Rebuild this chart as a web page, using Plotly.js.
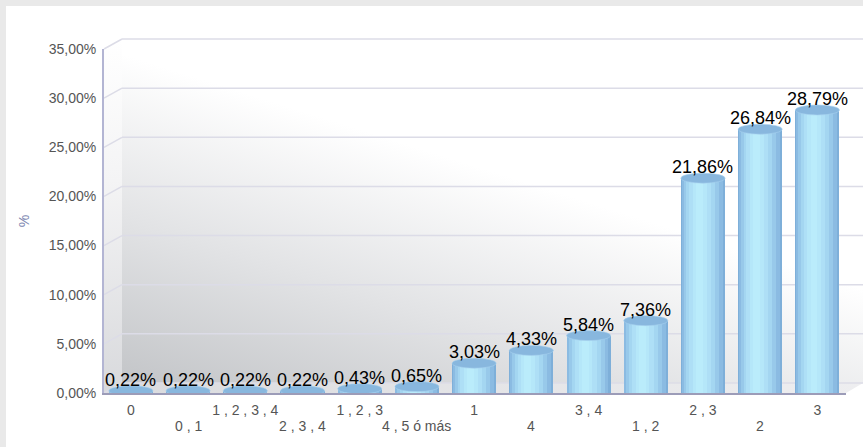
<!DOCTYPE html>
<html><head><meta charset="utf-8">
<script src="https://cdn.plot.ly/plotly-3.0.1.min.js"></script>
<style>
html,body{margin:0;padding:0;background:#e9e9e9;}
#wrap{position:relative;width:863px;height:447px;overflow:hidden;}
#panel{position:absolute;left:6px;top:6px;right:0;bottom:0;background:#fff;}
#chart{position:absolute;left:0;top:0;width:863px;height:447px;}
</style></head><body>
<div id="wrap"><div id="panel"></div><div id="chart"></div></div>
<script>
// ---- data ----
const categories = ["0", "0 , 1", "1 , 2 , 3 , 4", "2 , 3 , 4", "1 , 2 , 3", "4 , 5 ó más", "1", "4", "3 , 4", "1 , 2", "2 , 3", "2", "3"];
const values = [0.22, 0.22, 0.22, 0.22, 0.43, 0.65, 3.03, 4.33, 5.84, 7.36, 21.86, 26.84, 28.79];
const yTickVals = [0, 5, 10, 15, 20, 25, 30, 35];
const yTitle = "%";

// ---- geometry / style ----
const W = 863, H = 447, L = 104, R = 17, T = 49, B = 54;
const plotW = W - L - R, plotH = H - T - B;
const Y_MAX = 35;
const DX = 18, DY = 10;          // 3D depth offset in px
const BAR_W = 0.77;
const TOP_H = 0.51;               // half height of top ellipse (data units)
const FONT = "'Liberation Sans', Arial, Helvetica, sans-serif";

const idx = categories.map((c, i) => i);
const fmt = (v, d) => v.toFixed(d).replace('.', ',') + '%';

// cylinder shading layers
const layers = [
  {w: 0.77, s: 0.0,    c: '#7eafd9'},
  {w: 0.72, s: -0.015, c: '#8bbbe2'},
  {w: 0.62, s: -0.03,  c: '#98c9ea'},
  {w: 0.50, s: -0.04,  c: '#a4d6f1'},
  {w: 0.38, s: -0.05,  c: '#aedff6'},
  {w: 0.24, s: -0.055, c: '#b5e7f9'},
  {w: 0.12, s: -0.06,  c: '#baecfb'}
];
const traces = layers.map(l => ({
  type: 'bar', x: idx, y: values, width: l.w, offset: -l.w / 2 + l.s,
  marker: {color: l.c, line: {width: 0}}, hoverinfo: 'skip', showlegend: false
}));

// background box (back wall, side wall, floor)
const boxW = W - L, boxH = plotH + DY;
const svg = `<svg xmlns='http://www.w3.org/2000/svg' width='${boxW}' height='${boxH}' viewBox='0 0 ${boxW} ${boxH}' preserveAspectRatio='none'>
<defs>
<linearGradient id='g' gradientUnits='userSpaceOnUse' x1='${DX}' y1='${plotH}' x2='${DX + 95}' y2='45'>
<stop offset='0' stop-color='#c3c5c8'/><stop offset='0.5' stop-color='#e2e3e5'/><stop offset='1' stop-color='#ffffff'/>
</linearGradient>
<linearGradient id='s' x1='0' y1='1' x2='0' y2='0'><stop offset='0' stop-color='#d8d9dc'/><stop offset='0.6' stop-color='#f4f4f5'/><stop offset='1' stop-color='#ffffff'/></linearGradient>
<linearGradient id='f' x1='0' y1='0' x2='1' y2='0'><stop offset='0' stop-color='#dadbde'/><stop offset='1' stop-color='#eeeef0'/></linearGradient>
</defs>
<polygon points='${DX},0 ${boxW},0 ${boxW},${plotH} ${DX},${plotH}' fill='url(#g)'/>
<polygon points='0,${DY} ${DX},0 ${DX},${plotH} 0,${boxH}' fill='url(#s)'/>
<polygon points='0,${boxH} ${DX},${plotH} ${boxW},${plotH} ${plotW},${boxH}' fill='url(#f)'/>
</svg>`;
const img = 'data:image/svg+xml;charset=utf-8,' + encodeURIComponent(svg);

const px = p => p / plotW;
const shapes = [];
yTickVals.forEach(v => {
  const yf = v / Y_MAX, yb = v / Y_MAX + DY / plotH;
  const col = '#dcdce7';
  shapes.push({type: 'line', xref: 'paper', yref: 'paper', x0: 0, y0: yf, x1: px(DX), y1: yb,
    line: {color: col, width: 1.5}, layer: 'below'});
  shapes.push({type: 'line', xref: 'paper', yref: 'paper', x0: px(DX), y0: yb, x1: px(boxW), y1: yb,
    line: {color: col, width: 1.5}, layer: 'below'});
});
// cylinder tops
values.forEach((v, i) => {
  shapes.push({type: 'circle', xref: 'x', yref: 'y', x0: i - BAR_W / 2, x1: i + BAR_W / 2,
    y0: v - TOP_H, y1: v + TOP_H, fillcolor: '#88b7de', line: {color: '#a6d0ee', width: 0.6}, layer: 'above'});
});

const tickFont = {family: FONT, size: 14, color: '#555'};
const even = idx.filter(i => i % 2 === 0), odd = idx.filter(i => i % 2 === 1);

const annotations = values.map((v, i) => ({
  x: i, y: v, xref: 'x', yref: 'y', text: fmt(v, 2), showarrow: false,
  yanchor: 'bottom', yshift: -1, font: {family: FONT, size: 18, color: '#000'}
}));
// second row of category labels (staggered)
odd.forEach(i => annotations.push({
  x: i, y: 0, xref: 'x', yref: 'paper', text: categories[i], showarrow: false,
  yanchor: 'top', yshift: -23, font: tickFont
}));

const layout = {
  width: W, height: H,
  margin: {l: L, r: R, t: T, b: B, pad: 0},
  paper_bgcolor: 'rgba(0,0,0,0)', plot_bgcolor: 'rgba(0,0,0,0)',
  barmode: 'overlay', bargap: 0,
  showlegend: false,
  font: {family: FONT},
  xaxis: {range: [-0.47, 12.5], tickmode: 'array', tickvals: even, ticktext: even.map(i => categories[i]),
    showgrid: false, zeroline: false, showline: true, linecolor: '#9c9cb8', linewidth: 1.5,
    ticks: '', tickangle: 0, tickfont: tickFont, ticklabelstandoff: 4, fixedrange: true},
  yaxis: {range: [0, Y_MAX], tickmode: 'array', tickvals: yTickVals, ticktext: yTickVals.map(v => fmt(v, 2)),
    showgrid: false, zeroline: false, showline: true, linecolor: '#b3b5d3', linewidth: 2,
    ticks: '', tickfont: tickFont, ticklabelstandoff: 3,
    title: {text: yTitle, font: {family: FONT, size: 14, color: '#7c86b0'}, standoff: 16}, fixedrange: true},
  images: [{source: img, xref: 'paper', yref: 'paper', x: 0, y: 1 + DY / plotH,
    sizex: boxW / plotW, sizey: boxH / plotH, xanchor: 'left', yanchor: 'top',
    sizing: 'stretch', layer: 'below'}],
  shapes: shapes,
  annotations: annotations
};

Plotly.newPlot('chart', traces, layout, {displayModeBar: false, staticPlot: true});
</script>
</body></html>
